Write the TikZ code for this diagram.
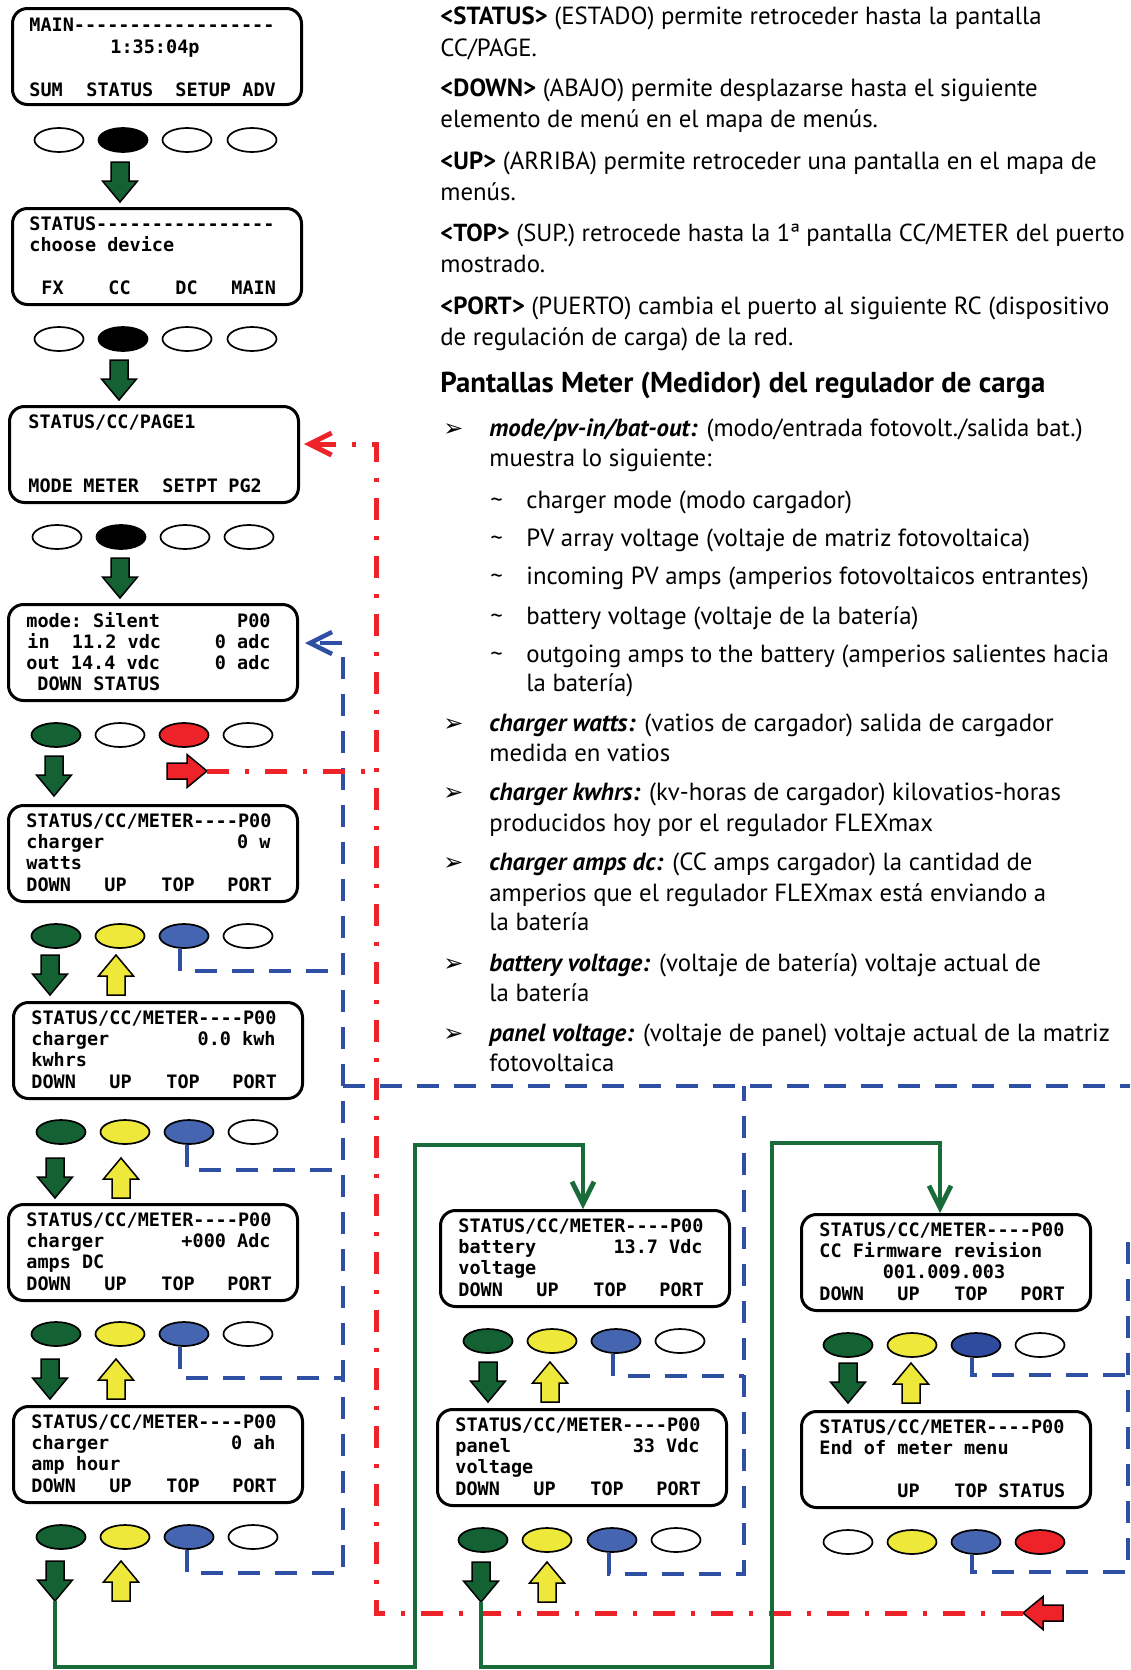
\documentclass[tikz,border=0pt]{standalone}
\usepackage{fontspec}
\setmainfont{PT Sans}
\newfontfamily\lcdfont{DejaVu Sans Mono}
\newfontfamily\bulletfnt{DejaVu Sans}
\usetikzlibrary{arrows.meta,shapes.geometric}
\definecolor{gfill}{HTML}{146234}
\definecolor{yfill}{HTML}{EEE83A}
\definecolor{bfill}{HTML}{4565B0}
\definecolor{bfilld}{HTML}{2E4B9E}
\definecolor{rfill}{HTML}{EE2329}
\definecolor{lblue}{HTML}{2F4FA3}
\definecolor{lred}{HTML}{EE2329}
\definecolor{lgreen}{HTML}{1A6B3A}
\newcommand\lcddash[1]{\foreach \i in {1,...,#1}{-}}
\newcommand\lcdl[5]{\node[lcdtxt,anchor=base west] (#1) at ([shift={(#3,#4)}]#2.north west) {#5};}
\newcommand\lcdr[4]{\node[lcdtxt,anchor=base east] (#1) at ([shift={(264,#3)}]#2.north west) {#4};}
\newcommand\lcdkeys[1]{\lcdl{#1k1}{#1}{19}{87}{DOWN}\lcdl{#1k2}{#1}{97}{87}{UP}\lcdl{#1k3}{#1}{154}{87}{TOP}\lcdl{#1k4}{#1}{220}{87}{PORT}}
\newcommand\lcdtitle[1]{\lcdl{#1t}{#1}{19}{23}{STATUS/CC/METER\lcddash{4}P00}}
\begin{document}
\begin{tikzpicture}[x=0.5pt,y=-0.5pt,
  lcdbox/.style={draw, line width=1.5pt, rounded corners=7.5pt, fill=white, minimum width=144.5pt, minimum height=48pt, inner sep=0pt, anchor=north west},
  lcdtxt/.style={font=\lcdfont\bfseries\fontsize{9.25}{10}\selectfont\frenchspacing, inner sep=0pt},
  btn/.style={draw, ellipse, line width=0.85pt, minimum width=24.5pt, minimum height=12pt, inner sep=0pt},
  body/.style={font=\fontsize{12.4}{14}\selectfont, inner sep=0pt, anchor=base west},
  bul/.style={font=\bulletfnt\fontsize{12}{13}\selectfont, inner sep=0pt, anchor=base west},
  blk/.style={draw=black, line width=0.75pt, line join=miter},
  blueline/.style={draw=lblue, line width=2.25pt, dash pattern=on 11pt off 7.5pt},
  redline/.style={draw=lred, line width=2.5pt, dash pattern=on 11pt off 8pt on 2pt off 8pt},
  greenline/.style={draw=lgreen, line width=2.4pt},
  barb/.style={-{Straight Barb[length=11pt,width=11pt]}},
  pics/gdown/.style={code={\draw[blk, fill=gfill] (-9,0) -- (9,0) -- (9,19) -- (17.5,19) -- (0,40) -- (-17.5,19) -- (-9,19) -- cycle; \coordinate (-tip) at (0,40);}},
  pics/yup/.style={code={\draw[blk, fill=yfill] (-9,40) -- (9,40) -- (9,21) -- (17.5,21) -- (0,0) -- (-17.5,21) -- (-9,21) -- cycle; \coordinate (-tip) at (0,0);}},
  pics/rright/.style={code={\draw[blk, fill=rfill] (0,-8) -- (20,-8) -- (20,-16.5) -- (40,0) -- (20,16.5) -- (20,8) -- (0,8) -- cycle; \coordinate (-tip) at (40,0);}},
  pics/rleft/.style={code={\draw[blk, fill=rfill] (0,-8) -- (-20,-8) -- (-20,-16.5) -- (-40,0) -- (-20,16.5) -- (-20,8) -- (0,8) -- cycle; \coordinate (-tip) at (-40,0);}}
]
\useasboundingbox[fill=white] (0,0) rectangle (1130,1670);

% ---------------- screens ----------------
\node[lcdbox] (s1) at (11,7) {};
\lcdl{s1a}{s1}{18}{25}{MAIN\lcddash{18}}
\node[lcdtxt, anchor=base] (s1b) at ([shift={(144,46)}]s1.north west) {1:35:04p};
\lcdl{s1c}{s1}{18}{89}{SUM}\lcdl{s1d}{s1}{75}{89}{STATUS}\lcdl{s1e}{s1}{164}{89}{SETUP}\lcdl{s1f}{s1}{231}{89}{ADV}

\node[lcdbox] (s2) at (11,207) {};
\lcdl{s2a}{s2}{18}{23}{STATUS\lcddash{16}}
\lcdl{s2b}{s2}{18}{44}{choose device}
\lcdl{s2c}{s2}{30}{87}{FX}\lcdl{s2d}{s2}{97}{87}{CC}\lcdl{s2e}{s2}{164}{87}{DC}\lcdl{s2f}{s2}{220}{87}{MAIN}

\node[lcdbox] (s3) at (8,405) {};
\lcdl{s3a}{s3}{20}{23}{STATUS/CC/PAGE1}
\lcdl{s3b}{s3}{20}{87}{MODE}\lcdl{s3c}{s3}{75}{87}{METER}\lcdl{s3d}{s3}{154}{87}{SETPT}\lcdl{s3e}{s3}{220}{87}{PG2}

\node[lcdbox] (s4) at (7,603) {};
\lcdl{s4a}{s4}{19}{24}{mode: Silent}\lcdr{s4b}{s4}{24}{P00}
\lcdl{s4c}{s4}{20}{45}{in\ \ 11.2 vdc}\lcdr{s4f}{s4}{45}{0 adc}
\lcdl{s4g}{s4}{19}{66}{out 14.4 vdc}\lcdr{s4j}{s4}{66}{0 adc}
\lcdl{s4k}{s4}{30}{87}{DOWN}\lcdl{s4l}{s4}{86}{87}{STATUS}

\node[lcdbox] (s5) at (7,804) {};
\lcdtitle{s5}\lcdl{s5b}{s5}{19}{44}{charger}\lcdr{s5c}{s5}{44}{0 w}\lcdl{s5d}{s5}{19}{65}{watts}\lcdkeys{s5}

\node[lcdbox] (s6) at (12,1001) {};
\lcdtitle{s6}\lcdl{s6b}{s6}{19}{44}{charger}\lcdr{s6c}{s6}{44}{0.0 kwh}\lcdl{s6d}{s6}{19}{65}{kwhrs}\lcdkeys{s6}

\node[lcdbox] (s7) at (7,1203) {};
\lcdtitle{s7}\lcdl{s7b}{s7}{19}{44}{charger}\lcdr{s7c}{s7}{44}{+000 Adc}\lcdl{s7d}{s7}{19}{65}{amps DC}\lcdkeys{s7}

\node[lcdbox] (s8) at (12,1405) {};
\lcdtitle{s8}\lcdl{s8b}{s8}{19}{44}{charger}\lcdr{s8c}{s8}{44}{0 ah}\lcdl{s8d}{s8}{19}{65}{amp hour}\lcdkeys{s8}

\node[lcdbox] (s9) at (439,1209) {};
\lcdtitle{s9}\lcdl{s9b}{s9}{19}{44}{battery}\lcdr{s9c}{s9}{44}{13.7 Vdc}\lcdl{s9d}{s9}{19}{65}{voltage}\lcdkeys{s9}

\node[lcdbox] (s10) at (436,1408) {};
\lcdtitle{s10}\lcdl{s10b}{s10}{19}{44}{panel}\lcdr{s10c}{s10}{44}{33 Vdc}\lcdl{s10d}{s10}{19}{65}{voltage}\lcdkeys{s10}

\node[lcdbox] (s11) at (800,1213) {};
\lcdtitle{s11}\lcdl{s11b}{s11}{19}{44}{CC Firmware revision}
\node[lcdtxt, anchor=base] (s11c) at ([shift={(144,65)}]s11.north west) {001.009.003};
\lcdkeys{s11}

\node[lcdbox] (s12) at (800,1410) {};
\lcdtitle{s12}\lcdl{s12b}{s12}{19}{44}{End of meter menu}
\lcdl{s12c}{s12}{97}{87}{UP}\lcdl{s12d}{s12}{154}{87}{TOP}\lcdl{s12e}{s12}{198}{87}{STATUS}

% ---------------- buttons ----------------
\node[btn,fill=white] (e1a) at (59,140) {};\node[btn,fill=black] (e1b) at (123,140) {};\node[btn,fill=white] (e1c) at (187,140) {};\node[btn,fill=white] (e1d) at (252,140) {};
\node[btn,fill=white] (e2a) at (59,339) {};\node[btn,fill=black] (e2b) at (123,339) {};\node[btn,fill=white] (e2c) at (187,339) {};\node[btn,fill=white] (e2d) at (252,339) {};
\node[btn,fill=white] (e3a) at (57,537) {};\node[btn,fill=black] (e3b) at (121,537) {};\node[btn,fill=white] (e3c) at (185,537) {};\node[btn,fill=white] (e3d) at (249,537) {};
\node[btn,fill=gfill] (e4a) at (56,735) {};\node[btn,fill=white] (e4b) at (120,735) {};\node[btn,fill=rfill] (e4c) at (184,735) {};\node[btn,fill=white] (e4d) at (248,735) {};
\node[btn,fill=gfill] (e5a) at (56,936) {};\node[btn,fill=yfill] (e5b) at (120,936) {};\node[btn,fill=bfill] (e5c) at (184,936) {};\node[btn,fill=white] (e5d) at (248,936) {};
\node[btn,fill=gfill] (e6a) at (61,1132) {};\node[btn,fill=yfill] (e6b) at (125,1132) {};\node[btn,fill=bfill] (e6c) at (189,1132) {};\node[btn,fill=white] (e6d) at (253,1132) {};
\node[btn,fill=gfill] (e7a) at (56,1334) {};\node[btn,fill=yfill] (e7b) at (120,1334) {};\node[btn,fill=bfill] (e7c) at (184,1334) {};\node[btn,fill=white] (e7d) at (248,1334) {};
\node[btn,fill=gfill] (e8a) at (61,1537) {};\node[btn,fill=yfill] (e8b) at (125,1537) {};\node[btn,fill=bfill] (e8c) at (189,1537) {};\node[btn,fill=white] (e8d) at (253,1537) {};
\node[btn,fill=gfill] (e9a) at (488,1341) {};\node[btn,fill=yfill] (e9b) at (552,1341) {};\node[btn,fill=bfill] (e9c) at (616,1341) {};\node[btn,fill=white] (e9d) at (680,1341) {};
\node[btn,fill=gfill] (e10a) at (483,1540) {};\node[btn,fill=yfill] (e10b) at (547,1540) {};\node[btn,fill=bfill] (e10c) at (612,1540) {};\node[btn,fill=white] (e10d) at (676,1540) {};
\node[btn,fill=gfill] (e11a) at (848,1345) {};\node[btn,fill=yfill] (e11b) at (912,1345) {};\node[btn,fill=bfilld] (e11c) at (976,1345) {};\node[btn,fill=white] (e11d) at (1040,1345) {};
\node[btn,fill=white] (e12a) at (848,1542) {};\node[btn,fill=yfill] (e12b) at (912,1542) {};\node[btn,fill=bfill] (e12c) at (976,1542) {};\node[btn,fill=rfill] (e12d) at (1040,1542) {};

% ---------------- block arrows ----------------
\pic (a1) at (120,162) {gdown};
\pic (a2) at (119,360) {gdown};
\pic (a3) at (120,558) {gdown};
\pic (a4) at (54,756) {gdown};
\pic (r4) at (167,771) {rright};
\pic (a5) at (50,955) {gdown};\pic (u5) at (116,955) {yup};
\pic (a6) at (55,1158) {gdown};\pic (u6) at (121,1158) {yup};
\pic (a7) at (50,1359) {gdown};\pic (u7) at (116,1359) {yup};
\pic (a8) at (55,1561) {gdown};\pic (u8) at (121,1561) {yup};
\pic (a9) at (488,1362) {gdown};\pic (u9) at (550,1362) {yup};
\pic (a10) at (481,1562) {gdown};\pic (u10) at (547,1562) {yup};
\pic (a11) at (848,1363) {gdown};\pic (u11) at (911,1363) {yup};
\pic (r12) at (1063,1613) {rleft};

% ---------------- connectors ----------------
\coordinate (bTop) at (343,643);
\coordinate (bL) at (343,1086);
\coordinate (bM) at (744,1086);
\coordinate (bR) at (1130,1086);
\coordinate (rTop) at (376,444);
\coordinate (g1top) at (583,1145);
\coordinate (g2top) at (940,1143);

% blue (TOP) loops
\draw[blueline] ([xshift=-2pt]e5c.south) |- (343,971);
\draw[blueline] ([xshift=-1pt]e6c.south) |- (343,1170);
\draw[blueline] ([xshift=-2pt]e7c.south) |- (343,1378);
\draw[blueline,barb,shorten >=3pt] ([xshift=-1pt]e8c.south) |- (343,1573) -- (bTop) -- (bTop -| s4.east);
\draw[blueline] (bL) -- (bR);
\draw[blueline] ([xshift=-1.5pt]e9c.south) |- (744,1376);
\draw[blueline] ([xshift=-1.5pt]e10c.south) |- (744,1574) -- (bM);
\draw[blueline] ([xshift=-2pt]e11c.south) |- (1130,1375);
\draw[blueline] ([xshift=-2pt]e12c.south) |- (1128,1572) -- (1128,1240);

% red (STATUS) loops
\draw[redline] (r4-tip) -- (r4-tip -| rTop);
\draw[redline,barb,shorten >=2pt] (r12-tip) -| (rTop) -- (rTop -| s3.east);

% green (DOWN) continuation
\draw[greenline,barb] (a8-tip) |- (415,1667) |- (g1top) -- (g1top |- s9.north);
\draw[greenline,barb] (a10-tip) |- (772,1667) |- (g2top) -- (g2top |- s11.north);

% ---------------- text ----------------
\node[body] (t1) at (440,25) {\textbf{<STATUS>} (ESTADO) permite retroceder hasta la pantalla};
\node[body] (t2) at (440,56) {CC/PAGE.};
\node[body] (t3) at (440,96) {\textbf{<DOWN>} (ABAJO) permite desplazarse hasta el siguiente};
\node[body] (t4) at (440,127) {elemento de menú en el mapa de menús.};
\node[body] (t5) at (440,169) {\textbf{<UP>} (ARRIBA) permite retroceder una pantalla en el mapa de};
\node[body] (t6) at (440,200) {menús.};
\node[body,font=\fontsize{12.3}{14}\selectfont] (t7) at (440,241) {\textbf{<TOP>} (SUP.) retrocede hasta la 1ª pantalla CC/METER del puerto};
\node[body] (t8) at (440,272) {mostrado.};
\node[body] (t9) at (440,314) {\textbf{<PORT>} (PUERTO) cambia el puerto al siguiente RC (dispositivo};
\node[body] (t10) at (440,345) {de regulación de carga) de la red.};
\node[body,font=\bfseries\fontsize{14.4}{16}\selectfont] (h1) at (440,392) {Pantallas Meter (Medidor) del regulador de carga};

\node[bul] (m1) at (443,436) {➢};
\node[body] (b1) at (489,436) {\textbf{\textit{mode/pv-in/bat-out:}} (modo/entrada fotovolt./salida bat.)};
\node[body] (b1x) at (489,466) {muestra lo siguiente:};
\node[body] (d1) at (490,508) {\textasciitilde};
\node[body] (d1t) at (526,508) {charger mode (modo cargador)};
\node[body] (d2) at (490,546) {\textasciitilde};
\node[body] (d2t) at (526,546) {PV array voltage (voltaje de matriz fotovoltaica)};
\node[body] (d3) at (490,584) {\textasciitilde};
\node[body] (d3t) at (526,584) {incoming PV amps (amperios fotovoltaicos entrantes)};
\node[body] (d4) at (490,624) {\textasciitilde};
\node[body] (d4t) at (526,624) {battery voltage (voltaje de la batería)};
\node[body] (d5) at (490,662) {\textasciitilde};
\node[body] (d5t) at (526,662) {outgoing amps to the battery (amperios salientes hacia};
\node[body] (d5x) at (526,691) {la batería)};
\node[bul] (m2) at (443,731) {➢};
\node[body] (b2) at (489,731) {\textbf{\textit{charger watts:}} (vatios de cargador) salida de cargador};
\node[body] (b2x) at (489,761) {medida en vatios};
\node[bul] (m3) at (443,800) {➢};
\node[body] (b3) at (489,800) {\textbf{\textit{charger kwhrs:}} (kv-horas de cargador) kilovatios-horas};
\node[body] (b3x) at (489,831) {producidos hoy por el regulador FLEXmax};
\node[bul] (m4) at (443,870) {➢};
\node[body] (b4) at (489,870) {\textbf{\textit{charger amps dc:}} (CC amps cargador) la cantidad de};
\node[body] (b4x) at (489,901) {amperios que el regulador FLEXmax está enviando a};
\node[body] (b4y) at (489,930) {la batería};
\node[bul] (m5) at (443,971) {➢};
\node[body] (b5) at (489,971) {\textbf{\textit{battery voltage:}} (voltaje de batería) voltaje actual de};
\node[body] (b5x) at (489,1001) {la batería};
\node[bul] (m6) at (443,1041) {➢};
\node[body] (b6) at (489,1041) {\textbf{\textit{panel voltage:}} (voltaje de panel) voltaje actual de la matriz};
\node[body] (b6x) at (489,1071) {fotovoltaica};
\end{tikzpicture}
\end{document}
